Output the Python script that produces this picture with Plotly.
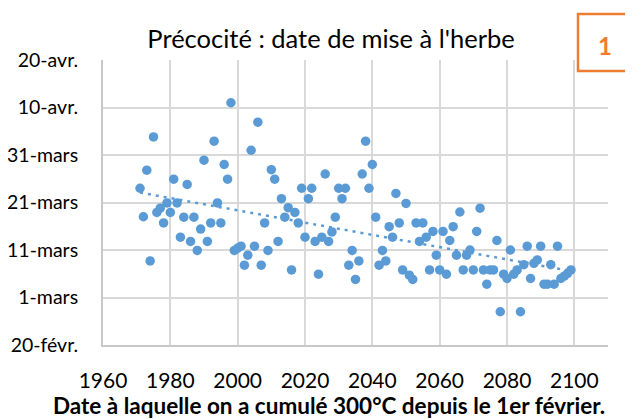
import numpy as np
import plotly.graph_objects as go

# année de la simulation
years = list(range(1971, 2100))

# jours après le 1er mars (1-mars = 0, 11-mars = 10, ...)
days = [
    23.0, 17.0, 26.8, 7.7, 33.8, 17.9, 18.8, 15.7, 19.9, 17.9,      # 1971-1980
    24.9, 19.9, 12.7, 16.9, 23.8, 11.8, 16.9, 9.9, 14.4, 28.9,      # 1981-1990
    11.8, 15.7, 32.9, 19.9, 15.7, 28.0, 24.9, 41.0, 9.9, 10.4,      # 1991-2000
    10.8, 6.8, 8.9, 31.0, 10.8, 36.9, 6.8, 15.7, 9.9, 26.9,         # 2001-2010
    24.9, 11.8, 20.8, 16.9, 18.9, 5.8, 17.9, 15.7, 23.0, 12.7,      # 2011-2020
    20.8, 23.0, 11.8, 4.9, 12.7, 26.0, 11.8, 13.8, 16.9, 23.0,      # 2021-2030
    20.8, 23.0, 6.8, 9.9, 3.8, 7.7, 26.0, 32.9, 23.0, 28.0,         # 2031-2040
    16.9, 6.8, 9.9, 7.7, 14.9, 12.7, 21.9, 15.7, 5.8, 19.8,         # 2041-2050
    4.7, 3.8, 15.7, 11.8, 15.7, 12.7, 5.8, 13.9, 8.9, 5.8,          # 2051-2060
    13.9, 4.9, 12.0, 14.9, 8.9, 18.0, 5.8, 8.9, 10.0, 5.8,          # 2061-2070
    13.9, 18.8, 5.8, 2.8, 5.8, 5.8, 12.0, -3.0, 4.9, 4.0,           # 2071-2080
    10.0, 4.9, 5.8, -3.0, 6.9, 10.8, 4.0, 7.2, 7.9, 10.8,           # 2081-2090
    2.8, 2.8, 6.9, 2.8, 10.8, 4.0, 4.5, 5.1, 5.8,                   # 2091-2099
]

tick_vals = [-10, 0, 10, 20, 30, 40, 50]
tick_text = ["20-févr.", "1-mars", "11-mars", "21-mars", "31-mars", "10-avr.", "20-avr."]

blue = "#5B9BD5"
orange = "#ED7D31"

# tendance linéaire (comme la courbe de tendance Excel)
a, b = np.polyfit(years, days, 1)
trend_x = [years[0], years[-1]]
trend_y = [a * x + b for x in trend_x]

fig = go.Figure()
fig.add_trace(go.Scatter(x=years, y=days, mode="markers",
                         marker=dict(color=blue, size=9.5), showlegend=False))
fig.add_trace(go.Scatter(x=trend_x, y=trend_y, mode="lines",
                         line=dict(color=blue, width=2.5, dash="3px,5px"), showlegend=False))

# la page ajoute 8px de marge autour de la figure
W, H = 625, 411
ml, mr, mt, mb = 95, 25, 52, 74
pw, ph = W - ml - mr, H - mt - mb


def px(x):
    return (x - 8 - ml) / pw


def py(y):
    return (H - mb - (y - 8)) / ph


fig.update_layout(
    width=W, height=H,
    margin=dict(l=ml, r=mr, t=mt, b=mb, autoexpand=False),
    paper_bgcolor="white", plot_bgcolor="white",
    font=dict(family="Lato, Open Sans, sans-serif", color="#000000", size=16),
    title=dict(text="Précocité : date de mise à l'herbe", x=(331 - 8) / W, xanchor="center",
               y=1 - (39 - 8) / H, yanchor="middle", font=dict(size=25.5)),
)
fig.update_xaxes(range=[1960, 2110], dtick=20, tick0=1960, showgrid=True,
                 gridcolor="#D9D9D9", gridwidth=2, zeroline=False,
                 showline=True, linecolor="#C8C8C8", linewidth=2, automargin=False,
                 ticks="", ticklabelstandoff=16, tickfont=dict(size=21))
fig.update_yaxes(range=[-10, 50], tickvals=tick_vals, ticktext=tick_text, showgrid=True,
                 gridcolor="#D9D9D9", gridwidth=2, zeroline=False,
                 showline=True, linecolor="#C8C8C8", linewidth=2, automargin=False,
                 ticks="", ticklabelstandoff=19, tickfont=dict(size=19.5))

# titre de l'axe des x, centré sur la page comme dans l'original
fig.add_annotation(text="<b>Date à laquelle on a cumulé 300°C depuis le 1er février.</b>",
                   xref="paper", yref="paper", x=px(329), y=py(405),
                   xanchor="center", yanchor="middle", showarrow=False,
                   font=dict(size=22.5))

# encadré "1" en haut à droite
fig.add_shape(type="rect", xref="paper", yref="paper",
              x0=px(578), x1=px(645), y0=py(71), y1=py(14),
              line=dict(color=orange, width=2.5), fillcolor="white")
fig.add_annotation(text="<b>1</b>", xref="paper", yref="paper",
                   x=px(605), y=py(45), xanchor="center", yanchor="middle",
                   showarrow=False, font=dict(color=orange, size=24))

fig.write_html("out.html")
